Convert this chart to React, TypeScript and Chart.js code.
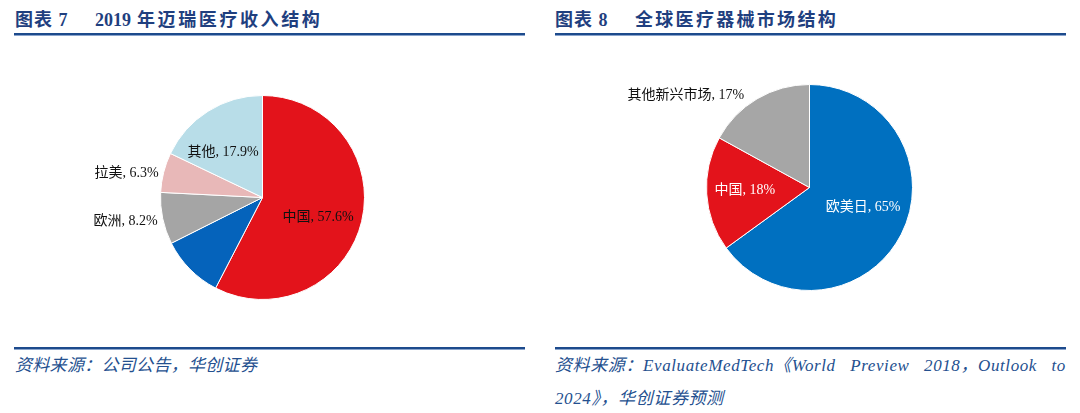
import React, { useEffect, useRef } from 'react';
import { Chart, registerables } from 'chart.js';
Chart.register(...registerables);

// ---- Data ----
const leftCategories = ['中国', '其他地区', '欧洲', '拉美', '其他'];
const leftValues = [57.6, 10.0, 8.2, 6.3, 17.9];
const leftLabels = ['中国, 57.6%', '', '欧洲, 8.2%', '拉美, 6.3%', '其他, 17.9%'];
const leftColors = ['#E3131B', '#0563BB', '#A5A5A5', '#E8B8B8', '#B8DDE8'];

const rightCategories = ['欧美日', '中国', '其他新兴市场'];
const rightValues = [65, 18, 17];
const rightLabels = ['欧美日, 65%', '中国, 18%', '其他新兴市场, 17%'];
const rightColors = ['#0070C0', '#E3131B', '#A6A6A6'];

const leftSource = '资料来源：公司公告，华创证券';
const rightSourceLine1 = ['资料来源：EvaluateMedTech《World', 'Preview', '2018，Outlook', 'to'];
const rightSourceLine2 = '2024》，华创证券预测';

// ---- Label placement (styling) ----
type Placement = { f: number; dx: number; dy: number; align: CanvasTextAlign; color: string } | null;
const leftPlacements: Placement[] = [
  { f: 0.6, dx: -4, dy: 5, align: 'center', color: '#111' },
  null,
  { f: 1, dx: -5, dy: 3, align: 'right', color: '#111' },
  { f: 1, dx: -5, dy: 1, align: 'right', color: '#111' },
  { f: 0.58, dx: -8, dy: 5, align: 'center', color: '#111' },
];
const rightPlacements: Placement[] = [
  { f: 0.55, dx: 3, dy: -6, align: 'center', color: '#FFFFFF' },
  { f: 0.62, dx: -1, dy: -1, align: 'center', color: '#FFFFFF' },
  { f: 1, dx: -13, dy: -4, align: 'right', color: '#111' },
];

const sliceLabels = {
  id: 'sliceLabels',
  afterDatasetsDraw(chart: any, _args: any, opts: any) {
    const meta = chart.getDatasetMeta(0);
    const ctx = chart.ctx as CanvasRenderingContext2D;
    ctx.save();
    meta.data.forEach((arc: any, i: number) => {
      const p = opts.placements[i];
      const text = opts.texts[i];
      if (!p || !text) return;
      const { x, y, startAngle, endAngle, outerRadius } = arc.getProps(
        ['x', 'y', 'startAngle', 'endAngle', 'outerRadius'],
        true
      );
      const mid = (startAngle + endAngle) / 2;
      const r = outerRadius * p.f;
      const px = x + Math.cos(mid) * r + p.dx;
      const py = y + Math.sin(mid) * r + p.dy;
      ctx.font = '14px "Liberation Serif", "Noto Sans CJK SC", serif';
      ctx.fillStyle = p.color;
      ctx.textAlign = p.align;
      ctx.textBaseline = 'middle';
      ctx.fillText(text, px, py);
    });
    ctx.restore();
  },
};

function makePie(
  canvas: HTMLCanvasElement,
  cats: string[],
  vals: number[],
  colors: string[],
  texts: string[],
  placements: Placement[],
  padding: { left: number; right: number; top: number; bottom: number }
) {
  return new Chart(canvas, {
    type: 'pie',
    data: {
      labels: cats,
      datasets: [
        {
          data: vals,
          backgroundColor: colors,
          borderColor: '#FFFFFF',
          borderWidth: 1,
        },
      ],
    },
    options: {
      responsive: false,
      animation: false,
      layout: { padding },
      plugins: {
        legend: { display: false },
        tooltip: { enabled: false },
        // @ts-ignore
        sliceLabels: { texts, placements },
      },
    },
    plugins: [sliceLabels as any],
  });
}

const titleColor = '#1F3F7F';
const ruleColor = '#1D4A8C';
const sourceColor = '#24508F';

const titleNumFont = '"Liberation Serif", "Noto Sans CJK SC", serif';

function Rule({ left, top, width }: { left: number; top: number; width: number }) {
  return (
    <div
      style={{
        position: 'absolute',
        left,
        top,
        width,
        height: 2,
        background: ruleColor,
        borderBottom: '1px solid #8AA4CC',
      }}
    />
  );
}

export default function App() {
  const leftRef = useRef<HTMLCanvasElement>(null);
  const rightRef = useRef<HTMLCanvasElement>(null);

  useEffect(() => {
    const c1 = makePie(leftRef.current!, leftCategories, leftValues, leftColors, leftLabels, leftPlacements, {
      left: 146,
      right: 159,
      top: 55,
      bottom: 40,
    });
    const c2 = makePie(rightRef.current!, rightCategories, rightValues, rightColors, rightLabels, rightPlacements, {
      left: 151,
      right: 153,
      top: 44,
      bottom: 49,
    });
    return () => {
      c1.destroy();
      c2.destroy();
    };
  }, []);

  const titleStyle: React.CSSProperties = {
    position: 'absolute',
    top: 8,
    height: 24,
    lineHeight: '24px',
    fontFamily: titleNumFont,
    fontWeight: 'bold',
    fontSize: 18,
    color: titleColor,
    whiteSpace: 'nowrap',
  };

  const sourceStyle: React.CSSProperties = {
    position: 'absolute',
    lineHeight: '33px',
    fontFamily: '"Liberation Serif", "Noto Sans CJK SC", serif',
    fontStyle: 'italic',
    fontSize: 17,
    color: sourceColor,
    whiteSpace: 'nowrap',
  };

  return (
    <div
      style={{
        position: 'absolute',
        left: 0,
        top: 0,
        width: 1080,
        height: 413,
        background: '#FFFFFF',
        overflow: 'hidden',
      }}
    >
      {/* Left title */}
      <div style={{ ...titleStyle, left: 15, letterSpacing: 1 }}>图表 7</div>
      <div style={{ ...titleStyle, left: 95 }}>
        <span>2019</span>
        <span style={{ letterSpacing: 2.6, marginLeft: 6 }}>年迈瑞医疗收入结构</span>
      </div>
      {/* Right title */}
      <div style={{ ...titleStyle, left: 555, letterSpacing: 1 }}>图表 8</div>
      <div style={{ ...titleStyle, left: 635, letterSpacing: 2.3 }}>全球医疗器械市场结构</div>

      <Rule left={14} top={33} width={511} />
      <Rule left={555} top={33} width={511} />

      <canvas
        ref={leftRef}
        width={510}
        height={300}
        style={{ position: 'absolute', left: 14, top: 40, width: 510, height: 300 }}
      />
      <canvas
        ref={rightRef}
        width={511}
        height={300}
        style={{ position: 'absolute', left: 555, top: 40, width: 511, height: 300 }}
      />

      <Rule left={14} top={347} width={511} />
      <Rule left={555} top={347} width={511} />

      <div style={{ ...sourceStyle, top: 349, left: 15, letterSpacing: 0.3 }}>{leftSource}</div>
      <div
        style={{
          ...sourceStyle,
          top: 349,
          left: 555,
          width: 511,
          display: 'flex',
          justifyContent: 'space-between',
          letterSpacing: 0.6,
        }}
      >
        {rightSourceLine1.map((w, i) => (
          <span key={i}>{w}</span>
        ))}
      </div>
      <div style={{ ...sourceStyle, top: 382, left: 555, letterSpacing: 0.6 }}>{rightSourceLine2}</div>
    </div>
  );
}
